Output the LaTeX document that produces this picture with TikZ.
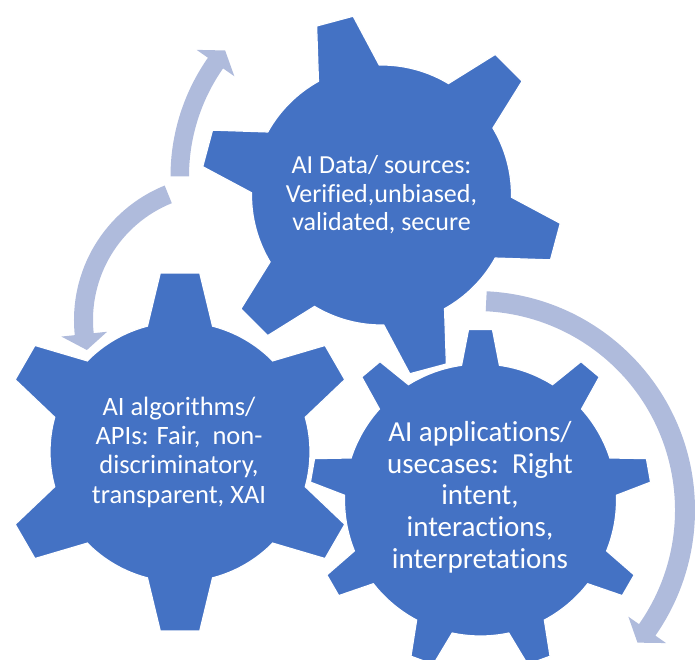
\documentclass[tikz,border=0pt]{standalone}
\usepackage{fontspec}
\setmainfont[Ligatures={NoCommon}]{Carlito}
\definecolor{gearblue}{HTML}{4472C4}
\definecolor{arrowblue}{RGB}{175,187,220}
\tikzset{
  gearshape/.style={fill=gearblue, draw=white, line width=1.2pt, line join=miter},
  arrowshape/.style={fill=arrowblue, draw=none},
  geartext/.style={text=white, align=center, inner sep=0pt},
}
% #1 cx, #2 cy (pixels, y down), #3 tooth angles, #4 first angle, #5 inner r, #6 outer r,
% #7 base half angle, #8 tip half angle, #9 spacing
\newcommand\mygear[9]{%
  \begin{scope}[shift={(#1,-#2)}]
    \path[gearshape] ({#4-#7}:#5)
      foreach \c in {#3} {
        -- ({\c-#8}:#6) -- ({\c+#8}:#6) -- ({\c+#7}:#5)
        arc[start angle={\c+#7}, end angle={\c+#9-#7}, radius=#5]
      } -- cycle;
  \end{scope}}
% #1 cx, #2 cy, #3 inner r, #4 outer r, #5 start angle, #6 end angle, #7 tip angle
\newcommand\myarrow[7]{%
  \begin{scope}[shift={(#1,-#2)}]
    \pgfmathsetmacro\rmid{(#3+#4)/2}
    \pgfmathsetmacro\rbo{\rmid+23}
    \pgfmathsetmacro\rbi{\rmid-23}
    \fill[arrowshape] (#5:#4) arc[start angle=#5, end angle=#6, radius=#4]
      -- (#6:\rbo) -- (#7:\rmid) -- (#6:\rbi) -- (#6:#3)
      arc[start angle=#6, end angle=#5, radius=#3] -- cycle;
  \end{scope}}
\begin{document}
\begin{tikzpicture}[x=1pt,y=1pt]
\useasboundingbox (0,0) rectangle (697,-660);
% gears
\mygear{180}{452}{90,150,210,270,330,390}{90}{130}{180}{14.5}{6.3}{60}
\mygear{480.5}{500}{90,130,170,210,250,290,330,370,410}{90}{136}{171}{8}{4}{40}
\mygear{381.5}{195}{105,165,225,285,345,405}{105}{130}{181}{14}{6}{60}
% arrows
\myarrow{377.5}{176.5}{188.5}{207}{180}{145}{140.4}
\myarrow{219}{320}{126}{145}{112}{186}{192.8}
\myarrow{476}{510}{199}{219}{87.2}{-35}{-39.4}
% texts
\node[geartext, font=\fontsize{26}{28.5}\selectfont] (tdata) at (381.5,-195)
  {AI Data/ sources:\\Verified,unbiased,\\validated, secure};
\node[geartext, font=\fontsize{26.5}{29.3}\selectfont] (talg) at (179,-452)
  {AI algorithms/\\APIs: Fair,\ \ non-\\discriminatory,\\transparent, XAI};
\node[geartext, font=\fontsize{29}{31.7}\selectfont] (tapp) at (480,-497)
  {AI applications/\\usecases:\ \ Right\\intent,\\interactions,\\interpretations};
\end{tikzpicture}
\end{document}
